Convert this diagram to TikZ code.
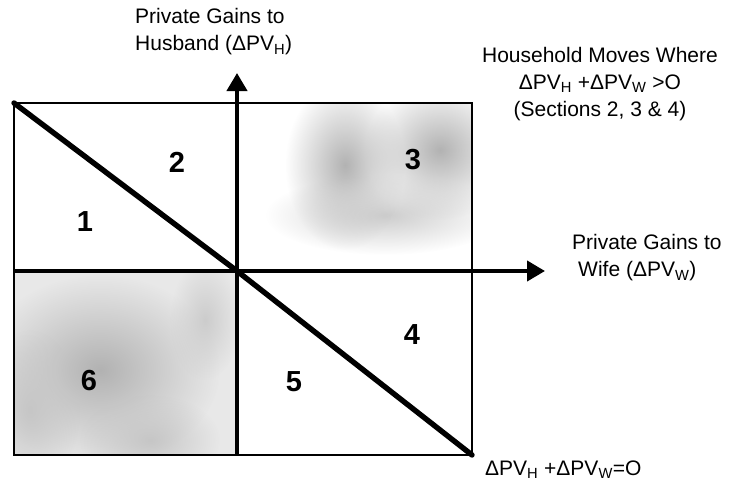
\documentclass[tikz,border=0pt]{standalone}
\usepackage{fontspec}
\setmainfont{Liberation Sans}
\usetikzlibrary{arrows.meta,fadings}
\tikzfading[name=softblob, inner color=transparent!0, outer color=transparent!100]
\tikzset{
  lbl/.style={font=\fontsize{21}{27}\selectfont, inner sep=0pt},
  num/.style={font=\fontsize{29}{30}\selectfont\bfseries, inner sep=0pt},
  axis/.style={line width=4.2pt, -{Triangle[length=18pt,width=20pt]}},
  diag/.style={line width=5.4pt, line cap=round},
  frame/.style={line width=1.3pt},
  blob/.style={path fading=softblob},
}
\begin{document}
\begin{tikzpicture}[x=1pt,y=-1pt]
\useasboundingbox (0,0) rectangle (753,485);
% quadrant corners
\coordinate (TL) at (14,103);
\coordinate (BR) at (472,455);
\coordinate (O) at (237,271);
\coordinate (vtop) at (237,73);
\coordinate (vbot) at (237,455);
\coordinate (hleft) at (14,271);
\coordinate (hright) at (545,271);
% shading region 6
\begin{scope}
  \clip (14,271) rectangle (237,455);
  \fill[gray!18] (14,271) rectangle (237,455);
  \fill[gray!60, blob] (100,370) ellipse (120 and 95);
  \fill[gray!45, blob] (30,410) ellipse (50 and 80);
  \fill[gray!45, blob] (150,440) ellipse (70 and 45);
  \fill[gray!40, blob] (205,320) ellipse (35 and 60);
\end{scope}
% shading region 3
\begin{scope}
  \clip (237,103) rectangle (472,271);
  \fill[gray!60, blob] (345,165) ellipse (60 and 85);
  \fill[gray!60, blob] (440,150) ellipse (75 and 70);
  \fill[gray!40, blob] (385,215) ellipse (120 and 40);
\end{scope}
% frame
\draw[frame] (TL) rectangle (BR);
% axes
\draw[axis] (vbot) -- (vtop);
\draw[axis] (hleft) -- (hright);
% diagonal
\draw[diag] (TL) -- (O) -- (BR);
% region numbers
\node[num] (n1) at (85,222) {1};
\node[num] (n2) at (177,162) {2};
\node[num] (n3) at (413,160) {3};
\node[num] (n4) at (412,335) {4};
\node[num] (n5) at (294,382) {5};
\node[num] (n6) at (89,381) {6};
% labels
\node[lbl, anchor=west, align=left] (husb) at (135,32) {Private Gains to\\Husband (ΔPV\textsubscript{H})};
\node[lbl, align=center] (house) at (600,84) {Household Moves Where\\ΔPV\textsubscript{H} +ΔPV\textsubscript{W} >O\\(Sections 2, 3 \& 4)};
\node[lbl, anchor=west, align=left] (wife) at (572,258) {Private Gains to\\\hspace{6pt}Wife (ΔPV\textsubscript{W})};
\node[lbl, anchor=west] (eq) at (485,470) {ΔPV\textsubscript{H} +ΔPV\textsubscript{W}=O};
\end{tikzpicture}
\end{document}
